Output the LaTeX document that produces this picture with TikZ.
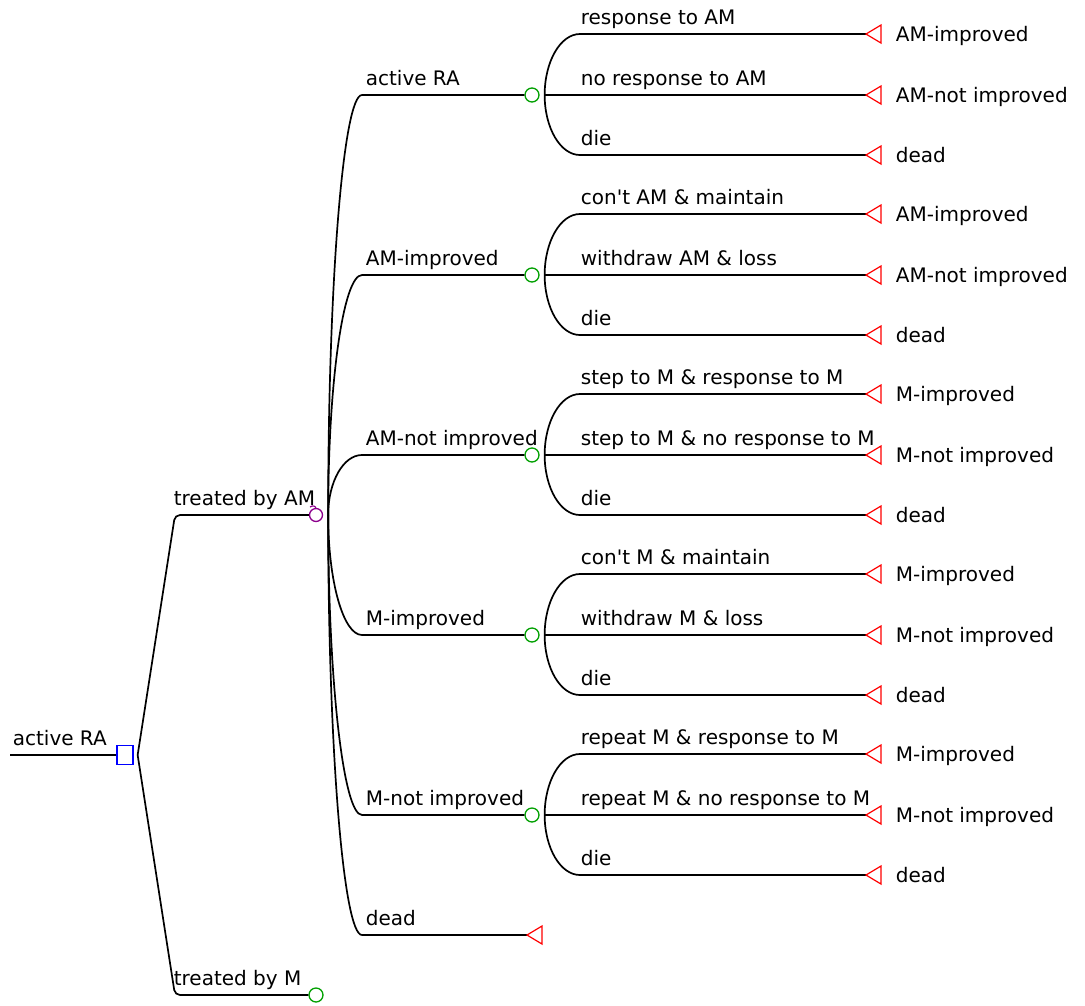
\documentclass[tikz,border=0pt]{standalone}
\usepackage{fontspec}
\setmainfont{DejaVu Sans}
\usetikzlibrary{calc}
\definecolor{chg}{RGB}{0,160,0}
\definecolor{mkv}{RGB}{140,0,140}
\definecolor{dcb}{RGB}{0,0,255}
\definecolor{trr}{RGB}{255,0,0}
\begin{document}
\begin{tikzpicture}[x=1pt,y=-1pt, line width=1.7pt,
  lbl/.style={font=\fontsize{20}{23}\selectfont, anchor=base west, inner sep=0pt},
  decision/.style={draw=dcb, line width=1.3pt, rectangle, minimum width=16pt, minimum height=19pt, inner sep=0pt},
  chance/.style={draw=chg, line width=1.3pt, circle, minimum size=14pt, inner sep=0pt},
  markov/.style={draw=mkv, line width=1.3pt, circle, minimum size=13pt, inner sep=0pt},
  term/.style={draw=trr, line width=1.2pt}]
\useasboundingbox (0,0) rectangle (1085,1005);

% root
\coordinate (root) at (10,755);
\node[decision] (d) at (125,755) {};
\draw (root) -- (d.west);
\node[lbl] at (12,745) {active RA};
\coordinate (fd) at ([xshift=4pt]d.east);

% treated by AM
\coordinate (bam) at (175,515);
\node[markov] (mk) at (316,515) {};
\draw[mkv, line width=1.2pt] (310,507) .. controls (313,505) and (316,506) .. (316,509);
\draw[rounded corners=5pt] (fd) -- (bam) -- (mk.west);
\node[lbl] at (173,505) {treated by AM};

% treated by M
\coordinate (bm) at (175,995);
\node[chance] (cm) at (316,995) {};
\draw[rounded corners=5pt] (fd) -- (bm) -- (cm.west);
\node[lbl] at (173,985) {treated by M};

\coordinate (fm) at ([xshift=5pt]mk.east);

\foreach \i/\y/\name/\la/\lb/\ta/\tb in {
 1/95/active RA/response to AM/no response to AM/AM-improved/AM-not improved,
 2/275/AM-improved/con\textquotesingle t AM \& maintain/withdraw AM \& loss/AM-improved/AM-not improved,
 3/455/AM-not improved/step to M \& response to M/step to M \& no response to M/M-improved/M-not improved,
 4/635/M-improved/con\textquotesingle t M \& maintain/withdraw M \& loss/M-improved/M-not improved,
 5/815/M-not improved/repeat M \& response to M/repeat M \& no response to M/M-improved/M-not improved}{
  \coordinate (m\i) at (362,\y);
  \node[chance] (c\i) at (532,\y) {};
  \draw (fm) .. controls ($(fm)!0.552!(fm |- m\i)$) and ($(m\i)!0.552!(fm |- m\i)$) .. (m\i) -- (c\i.west);
  \node[lbl] at (365,\y-10) {\name};
  \coordinate (f\i) at ([xshift=5pt]c\i.east);
  \foreach \j/\dy/\lab/\tl in {a/-61/\la/\ta, b/0/\lb/\tb, c/60/die/dead}{
    \coordinate (k\i\j) at (580,\y+\dy);
    \coordinate (t\i\j) at (866,\y+\dy);
    \draw (f\i) .. controls ($(f\i)!0.552!(f\i |- k\i\j)$) and ($(k\i\j)!0.552!(f\i |- k\i\j)$) .. (k\i\j) -- (t\i\j);
    \draw[term] (t\i\j) -- ++(15,-9) -- ++(0,18) -- cycle;
    \node[lbl] at (580,\y+\dy-10) {\lab};
    \node[lbl] at (895,\y+\dy+7) {\tl};
  }
}

% dead branch of Markov node
\coordinate (m6) at (362,935);
\coordinate (t6) at (527,935);
\draw (fm) .. controls ($(fm)!0.552!(fm |- m6)$) and ($(m6)!0.552!(fm |- m6)$) .. (m6) -- (t6);
\draw[term] (t6) -- ++(15,-9) -- ++(0,18) -- cycle;
\node[lbl] at (365,925) {dead};
\end{tikzpicture}
\end{document}
